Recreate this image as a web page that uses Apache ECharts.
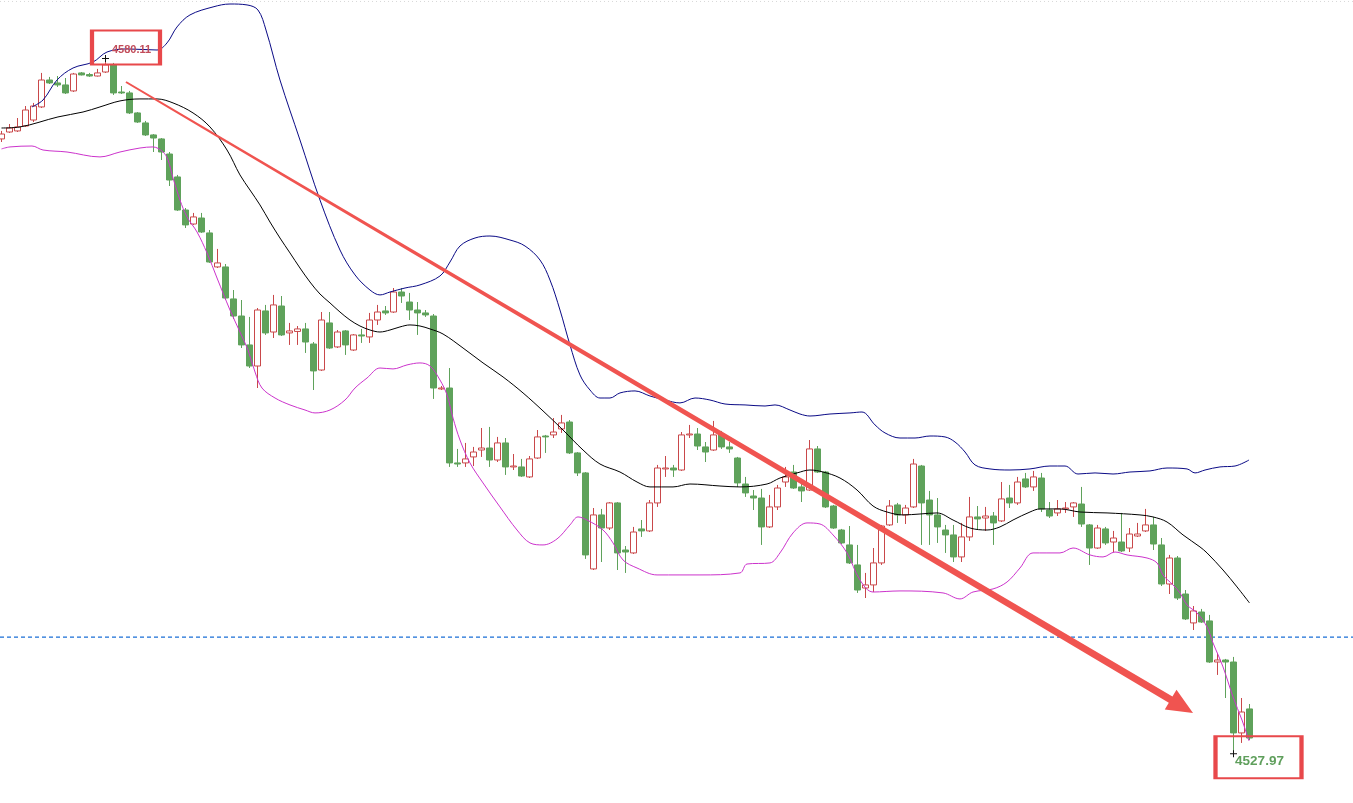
<!DOCTYPE html>
<html><head><meta charset="utf-8">
<script src="https://cdn.jsdelivr.net/npm/echarts@6/dist/echarts.min.js"></script>
<style>html,body{margin:0;padding:0;background:#fff;overflow:hidden}#c{width:1353px;height:803px}</style>
</head><body><div id="c"></div>
<script>
// ---- candle data (index = bar number) ----
const opens = [4574.08,4574.60,4574.68,4575.05,4575.50,4576.48,4578.50,4578.28,4578.13,4577.68,
 4579.03,4578.91,4578.80,4579.10,4579.63,4577.60,4577.53,4576.03,4575.28,4574.38,
 4574.08,4572.95,4571.23,4568.75,4567.70,4568.15,4567.03,4564.48,4564.48,4562.08,
 4560.80,4558.63,4557.05,4561.18,4559.60,4561.55,4559.53,4559.64,4559.83,4558.70,
 4556.75,4560.28,4558.48,4559.68,4558.25,4559.38,4559.23,4560.50,4561.18,4561.10,
 4562.60,4561.85,4561.25,4561.03,4560.80,4555.33,4555.40,4549.78,4549.78,4550.23,
 4550.75,4550.90,4550.00,4551.28,4549.48,4549.48,4548.73,4550.15,4551.80,4551.88,
 4552.33,4552.85,4550.53,4549.03,4541.83,4545.88,4544.90,4546.78,4543.25,4543.03,
 4544.83,4544.68,4546.78,4549.33,4549.40,4549.25,4551.88,4551.95,4550.98,4550.75,
 4551.95,4550.98,4550.15,4548.20,4547.30,4547.15,4544.98,4546.48,4548.35,4549.10,
 4547.98,4547.75,4550.83,4549.10,4546.55,4544.75,4543.63,4542.13,4540.40,4540.63,
 4542.28,4545.13,4546.63,4545.88,4546.48,4549.55,4547.00,4545.88,4544.75,4544.38,
 4542.73,4544.23,4545.73,4545.65,4545.80,4545.43,4547.15,4546.78,4548.58,4547.98,
 4548.65,4546.25,4546.03,4546.33,4546.48,4546.70,4545.13,4543.40,4544.83,4543.85,
 4543.85,4543.40,4544.30,4544.68,4545.13,4543.63,4540.70,4542.65,4539.95,4537.78,
 4538.60,4537.93,4534.85,4535.00,4534.85,4529.53,4531.33];
const closes = [4574.45,4574.90,4574.98,4576.25,4576.55,4578.50,4578.28,4578.13,4577.53,4578.95,
 4578.88,4578.80,4579.03,4579.63,4577.53,4577.53,4576.03,4575.35,4574.38,4574.15,
 4573.10,4571.00,4568.75,4567.63,4568.23,4567.10,4564.85,4564.78,4562.15,4560.80,
 4558.63,4557.05,4561.25,4559.53,4561.63,4559.38,4559.68,4559.83,4558.85,4556.68,
 4560.50,4558.40,4559.60,4558.63,4559.38,4559.30,4560.50,4561.10,4561.03,4562.60,
 4562.30,4561.25,4561.03,4560.88,4555.40,4555.40,4549.78,4549.70,4550.08,4550.60,
 4550.90,4550.00,4551.28,4549.48,4549.55,4548.80,4550.08,4551.73,4551.73,4552.10,
 4552.78,4550.53,4549.03,4542.88,4545.88,4544.90,4546.78,4543.03,4543.10,4544.60,
 4544.68,4546.78,4549.40,4549.40,4549.25,4551.88,4551.95,4551.05,4550.60,4551.88,
 4550.98,4550.83,4548.28,4547.53,4547.15,4544.98,4546.48,4547.90,4548.73,4547.90,
 4547.68,4550.83,4549.10,4546.48,4544.90,4543.78,4542.28,4540.25,4540.63,4542.28,
 4545.05,4546.55,4545.88,4546.40,4549.70,4546.78,4545.88,4544.98,4544.38,4542.73,
 4544.23,4545.73,4545.58,4545.80,4545.28,4547.08,4546.78,4548.35,4547.98,4548.73,
 4546.33,4545.80,4546.33,4546.40,4546.78,4545.20,4543.40,4544.90,4543.78,4544.15,
 4543.18,4544.45,4544.45,4545.13,4543.70,4540.70,4542.65,4539.65,4538.08,4538.68,
 4537.85,4534.85,4535.00,4534.85,4529.53,4531.10,4529.15];
const lows = [4573.85,4574.53,4574.60,4574.98,4575.35,4576.40,4578.20,4577.98,4577.45,4577.60,
 4578.84,4578.73,4578.76,4579.03,4577.38,4577.45,4575.95,4575.28,4574.30,4573.10,
 4572.50,4570.55,4568.68,4567.40,4567.63,4567.03,4564.78,4564.40,4562.00,4560.58,
 4558.40,4556.90,4555.40,4559.38,4559.15,4559.30,4558.63,4558.63,4558.03,4555.25,
 4556.68,4558.33,4558.40,4557.88,4558.18,4558.78,4558.78,4560.13,4560.88,4561.03,
 4561.78,4560.50,4559.38,4560.73,4554.58,4555.25,4549.48,4549.48,4549.48,4549.55,
 4550.23,4549.48,4549.85,4548.88,4549.25,4548.73,4548.65,4550.08,4550.53,4551.65,
 4552.03,4550.45,4548.80,4542.58,4541.75,4542.35,4544.75,4541.75,4541.53,4542.95,
 4544.23,4544.60,4546.48,4548.73,4548.73,4549.18,4551.65,4550.75,4549.85,4550.68,
 4550.83,4550.53,4547.98,4547.23,4546.25,4543.63,4544.90,4546.25,4547.98,4547.83,
 4546.85,4547.68,4549.03,4546.40,4544.83,4543.70,4542.20,4540.03,4539.65,4540.10,
 4542.13,4545.05,4545.28,4545.20,4546.40,4543.63,4543.63,4543.78,4543.03,4542.35,
 4542.35,4543.93,4544.75,4544.68,4543.63,4545.35,4546.40,4546.63,4547.90,4547.68,
 4546.10,4545.65,4545.80,4546.03,4545.73,4544.98,4542.13,4543.33,4543.63,4543.10,
 4543.10,4543.10,4544.23,4544.60,4543.25,4540.55,4539.95,4539.50,4538.00,4537.25,
 4537.78,4534.78,4533.88,4532.15,4527.97,4528.78,4529.00];
const highs = [4574.68,4575.20,4575.65,4576.55,4576.78,4579.03,4578.73,4578.80,4578.65,4579.03,
 4579.10,4579.03,4579.33,4580.11,4579.78,4578.05,4577.68,4576.10,4575.43,4574.45,
 4574.15,4573.10,4571.38,4568.90,4568.53,4568.53,4567.25,4565.83,4564.70,4562.75,
 4562.00,4560.73,4561.40,4561.63,4562.38,4562.30,4560.28,4560.05,4560.28,4558.85,
 4561.10,4561.10,4559.75,4559.75,4559.45,4559.83,4561.03,4561.63,4561.55,4562.90,
 4562.90,4562.53,4561.85,4561.25,4560.95,4555.55,4556.90,4550.83,4551.28,4550.98,
 4552.40,4552.48,4551.73,4551.65,4550.45,4550.08,4550.30,4552.25,4551.88,4553.15,
 4553.38,4553.00,4550.60,4549.10,4546.40,4546.33,4546.85,4546.85,4543.55,4544.98,
 4545.50,4547.00,4549.63,4550.30,4549.63,4552.10,4552.63,4552.40,4551.35,4552.93,
 4552.18,4551.35,4550.23,4548.73,4547.75,4547.83,4547.38,4548.13,4549.48,4549.63,
 4548.35,4551.50,4551.05,4549.18,4546.63,4544.83,4545.05,4543.63,4541.53,4543.40,
 4545.13,4547.00,4546.78,4546.63,4550.08,4549.63,4547.68,4547.15,4545.13,4545.13,
 4545.28,4547.23,4546.55,4546.48,4546.10,4548.35,4548.13,4548.73,4549.03,4549.18,
 4549.03,4546.85,4547.00,4546.85,4546.85,4547.98,4545.20,4545.13,4544.98,4544.68,
 4546.03,4544.90,4545.28,4546.33,4545.73,4544.15,4542.88,4542.80,4540.25,4539.05,
 4538.83,4538.38,4535.53,4535.08,4535.23,4532.15,4531.70];

// ---- Bollinger bands, sampled as (bar index, price) ----
const upperX = [3.81,5.19,6.94,8.94,11.44,13.19,15.69,19.44,20.69,21.94,23.56,26.44,28.56,30.69,32.06,33.06,34.81,37.31,39.81,42.31,44.19,46.06,47.31,48.56,50.44,52.31,54.81,56.06,57.31,59.19,61.06,63.56,65.44,67.31,68.56,69.81,71.06,72.31,73.56,74.81,76.06,77.31,79.19,81.06,82.94,84.81,86.69,88.56,90.44,92.94,95.44,96.69,98.56,99.81,101.06,103.56,106.06,107.56,109.19,110.44,112.31,114.19,116.06,117.94,119.19,120.44,121.69,123.56,126.06,128.56,131.06,132.94,134.56,136.69,138.94,141.06,143.56,145.69,148.19,149.19,150.44,152.31,154.19,155.94];
const upperY = [4576.48,4577.0,4578.5,4579.4,4579.85,4580.6,4580.83,4580.75,4581.28,4582.48,4583.38,4583.98,4584.2,4584.13,4583.75,4582.25,4578.5,4574.0,4569.5,4565.75,4563.88,4562.75,4562.38,4562.6,4562.9,4563.13,4563.8,4564.85,4566.05,4566.65,4566.8,4566.5,4566.05,4565.0,4563.5,4561.25,4558.63,4556.38,4555.25,4554.65,4554.65,4555.03,4555.18,4554.8,4554.5,4554.28,4554.65,4554.5,4554.2,4554.13,4554.05,4554.13,4553.75,4553.45,4553.3,4553.45,4553.53,4553.6,4552.63,4552.03,4551.65,4551.65,4551.8,4551.73,4551.35,4550.6,4549.63,4549.33,4549.25,4549.33,4549.55,4549.55,4548.95,4549.03,4548.95,4549.1,4549.18,4549.4,4549.33,4549.03,4549.25,4549.48,4549.55,4550.0];
const midX = [0,2.31,7.06,10.19,12.31,14.81,17.31,19.44,21.44,23.94,26.06,28.19,29.81,31.06,32.31,33.56,34.81,36.06,37.31,38.56,39.81,41.06,42.31,43.56,44.81,46.06,47.31,48.56,49.81,51.06,52.31,53.56,55.19,57.69,60.19,62.69,65.19,67.69,70.19,72.69,74.81,77.31,79.44,81.06,83.94,86.06,89.81,92.31,95.69,97.31,99.44,101.06,102.69,104.81,106.94,108.94,110.69,112.69,114.81,116.94,118.94,121.06,123.19,124.81,126.44,128.56,129.81,132.31,134.81,138.19,142.31,143.94,145.69,147.69,149.81,150.69,152.69,154.44,156];
const midY = [4574.9,4574.98,4575.73,4576.1,4576.48,4576.93,4577.08,4577.08,4576.78,4576.03,4574.98,4573.25,4571.38,4570.25,4569.13,4567.85,4566.65,4565.53,4564.4,4563.35,4562.45,4561.78,4561.1,4560.5,4560.05,4559.75,4559.6,4559.75,4559.98,4560.13,4560.05,4559.83,4559.45,4558.4,4557.28,4556.23,4555.03,4553.68,4552.25,4550.75,4549.7,4549.1,4548.35,4547.98,4547.98,4548.2,4548.05,4547.98,4548.2,4548.65,4549.03,4549.25,4549.1,4548.65,4547.75,4546.55,4546.1,4545.88,4545.95,4546.03,4545.5,4544.9,4544.75,4544.98,4545.5,4546.1,4546.33,4546.33,4546.1,4546.03,4545.88,4545.73,4545.35,4544.38,4543.48,4543.03,4541.75,4540.48,4539.28];
const lowerX = [0,1.06,3.81,5.19,8.19,12.31,14.81,17.31,18.94,20.19,20.81,21.44,22.31,23.19,24.44,25.69,26.94,28.56,29.81,30.81,31.69,32.56,34.19,36.06,37.94,39.19,41.06,42.94,44.19,45.69,47.31,48.94,50.69,52.31,53.56,54.81,55.69,56.44,57.31,58.56,60.19,62.31,64.44,66.06,67.69,69.44,71.06,72.06,73.19,75.19,76.44,77.69,79.44,81.94,84.81,87.31,92.31,93.19,96.06,97.31,98.94,100.69,102.31,103.94,105.69,107.31,108.94,112.31,117.69,119.81,121.44,123.94,125.69,127.31,128.94,132.31,133.94,136.06,137.69,139.19,140.69,143.19,144.44,145.19,146.44,147.31,148.19,149.44,150.69,151.44,152.69,153.94,155.06,155.94];
const lowerY = [4573.33,4573.48,4573.55,4573.25,4573.1,4572.73,4573.1,4573.4,4573.48,4573.1,4572.5,4571.15,4569.5,4568.23,4567.1,4565.53,4563.65,4561.25,4559.6,4558.25,4556.6,4555.4,4554.65,4554.13,4553.75,4553.53,4553.75,4554.5,4555.4,4556.15,4556.9,4556.83,4557.13,4557.28,4557.05,4556.0,4554.88,4553.15,4551.5,4549.78,4548.28,4546.48,4544.75,4543.78,4543.63,4544.08,4545.13,4545.73,4545.5,4544.75,4543.78,4542.5,4541.9,4541.38,4541.38,4541.38,4541.53,4542.2,4542.28,4543.03,4544.53,4545.28,4545.2,4544.38,4543.03,4541.0,4540.1,4540.18,4540.03,4539.58,4540.1,4540.33,4540.85,4541.9,4543.03,4543.03,4543.4,4542.88,4542.73,4543.1,4542.88,4542.65,4542.28,4541.38,4540.63,4540.03,4539.13,4538.53,4537.48,4536.28,4534.48,4532.23,4530.5,4528.93];

// ---- annotations ----
const highIdx = 13, highMark = 4580.11;
const lowIdx = 154, lowMark = 4527.97;
const levelLine = 4536.72;
const topLine = 4584.39;
const arrowFrom = [15.56, 4578.35];
const arrowTo = [148.94, 4531.03];
const xMin = -0.1875, xMax = 168.9375;

const candles = opens.map((o, i) => [i, o, closes[i], lows[i], highs[i]]);
const pairs = (xs, ys) => xs.map((x, i) => [x, ys[i]]);
const crossPath = 'path://M0,3h7v1h-7z M3,0h1v7h-1z';

const chart = echarts.init(document.getElementById('c'), null, {renderer: 'canvas'});
const lineBase = {type: 'line', showSymbol: false, smooth: 0.35, silent: true, z: 3};
chart.setOption({
  animation: false,
  backgroundColor: '#ffffff',
  grid: {left: 0, right: 0, top: 0, bottom: 0},
  xAxis: {type: 'value', min: xMin, max: xMax, show: false},
  yAxis: {type: 'value', min: 4524.275, max: 4584.5, show: false, scale: true},
  series: [
    {
      type: 'line', name: 'level', showSymbol: false, silent: true, z: 1,
      data: [[xMin, levelLine], [xMax, levelLine]],
      lineStyle: {type: [4, 3], color: '#1a6fd6', width: 1.3}
    },
    {
      type: 'line', name: 'top', showSymbol: false, silent: true, z: 1,
      data: [[xMin, topLine], [xMax, topLine]],
      lineStyle: {type: [1, 3], color: '#d8d8d8', width: 1}
    },
    {
      type: 'candlestick', data: candles, encode: {x: 0, y: [1, 2, 3, 4]},
      barWidth: 6, z: 2,
      itemStyle: {color: '#ffffff', color0: '#5fa25b', borderColor: '#c9484a', borderColor0: '#5fa25b', borderWidth: 1},
      markPoint: {
        silent: true,
        data: [
          {coord: [highIdx, highMark], symbol: crossPath, symbolSize: 7, itemStyle: {color: '#111'}, label: {show: false}},
          {coord: [lowIdx, lowMark], symbol: crossPath, symbolSize: 7, itemStyle: {color: '#111'}, label: {show: false}},
          {coord: [highIdx, highMark], value: highMark, symbol: 'rect', symbolSize: [68, 34], symbolOffset: [20.5, -11],
           itemStyle: {color: 'rgba(255,255,255,0)', borderColor: '#e8484b', borderWidth: 3},
           label: {show: true, position: 'inside', formatter: '{c}', offset: [5.5, 2.5], color: '#c24d5a', fontSize: 11, fontWeight: 'bold', fontFamily: 'Liberation Sans, Arial, sans-serif'}},
          {coord: [lowIdx, lowMark], value: lowMark, symbol: 'rect', symbolSize: [86, 42], symbolOffset: [25, 3.5],
           itemStyle: {color: 'rgba(255,255,255,0)', borderColor: '#e8484b', borderWidth: 3},
           label: {show: true, position: 'inside', formatter: '{c}', offset: [1, 4.5], color: '#5f9f5c', fontSize: 13.5, fontWeight: 'bold', fontFamily: 'Liberation Sans Narrow, Arial Narrow, Liberation Sans, sans-serif'}}
        ]
      }
    },
    Object.assign({}, lineBase, {name: 'upper', data: pairs(upperX, upperY), lineStyle: {color: '#0a0a86', width: 1}}),
    Object.assign({}, lineBase, {name: 'middle', data: pairs(midX, midY), lineStyle: {color: '#000000', width: 1}}),
    Object.assign({}, lineBase, {name: 'lower', data: pairs(lowerX, lowerY), lineStyle: {color: '#cc33cc', width: 1}}),
    {
      type: 'custom', silent: true, z: 10,
      data: [[arrowFrom[0], arrowFrom[1], arrowTo[0], arrowTo[1]]],
      encode: {x: [0, 2], y: [1, 3]},
      renderItem: function (params, api) {
        const s = api.coord([api.value(0), api.value(1)]);
        const e = api.coord([api.value(2), api.value(3)]);
        const dx = e[0] - s[0], dy = e[1] - s[1], L = Math.hypot(dx, dy);
        const ux = dx / L, uy = dy / L, nx = -uy, ny = ux;
        const headL = 26, headW = 11.5, w0 = 1, w1 = 3.6;
        const bx = e[0] - ux * headL, by = e[1] - uy * headL;
        const pts = [
          [s[0] + nx * w0, s[1] + ny * w0], [bx + nx * w1, by + ny * w1], [bx + nx * headW, by + ny * headW],
          [e[0], e[1]],
          [bx - nx * headW, by - ny * headW], [bx - nx * w1, by - ny * w1], [s[0] - nx * w0, s[1] - ny * w0]
        ];
        return {type: 'polygon', shape: {points: pts}, style: {fill: '#f05450'}};
      }
    }
  ]
});
</script>
</body></html>
